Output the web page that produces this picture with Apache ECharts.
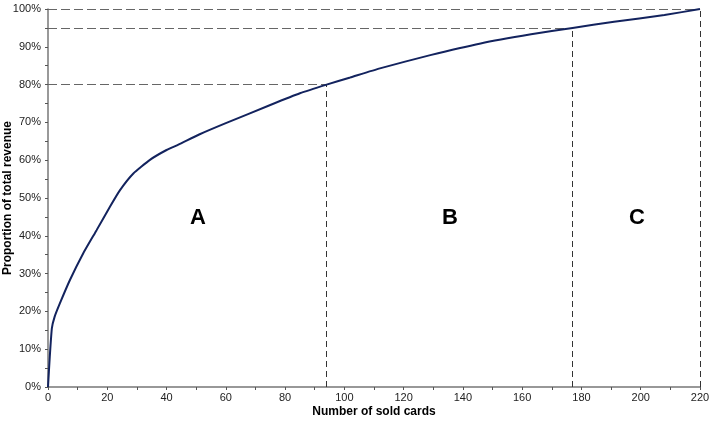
<!DOCTYPE html>
<html>
<head>
<meta charset="utf-8">
<script src="https://cdn.jsdelivr.net/npm/echarts@6/dist/echarts.min.js"></script>
<style>
  html, body { margin: 0; padding: 0; background: #fff; }
  #main { width: 718px; height: 421px; }
</style>
</head>
<body>
<div id="main"></div>
<script>
// cumulative revenue curve
const cards = [0, 0.6, 1.3, 2.2, 4, 7.4, 11.9, 16.4, 20.9, 24.3, 28.8, 34.4, 40, 44, 51, 60, 75, 85, 94, 102, 112, 129, 146, 163, 177, 191, 208, 220];
const share = [0, 8, 15.5, 18.5, 22.1, 28.3, 35.4, 41.5, 47.7, 52.1, 56.5, 60.1, 62.7, 64.1, 66.8, 69.8, 74.6, 77.7, 80, 81.9, 84.3, 87.8, 90.9, 93.3, 95, 96.6, 98.4, 100];

// ABC class limits
const cutCards = [94, 177, 220];
const cutShare = [80, 95, 100];

// class letters
const classNames = ["A", "B", "C"];
const classX = [50.6, 135.6, 198.7];
const classY = [44.7, 44.7, 44.7];

const chart = echarts.init(document.getElementById("main"));

const hLines = cutCards.map((c, i) => [
  { coord: [0, cutShare[i]] },
  { coord: [c, cutShare[i]] },
]);
const vLines = cutCards.map((c, i) => [
  { coord: [c, 0] },
  { coord: [c, cutShare[i]] },
]);

const option = {
  animation: false,
  textStyle: { fontFamily: "Liberation Sans, Arial, sans-serif" },
  grid: { left: 48, right: 18, top: 9, bottom: 34, containLabel: false, outerBoundsMode: "none" },
  xAxis: {
    type: "value",
    min: 0,
    max: 220,
    interval: 20,
    name: "Number of sold cards",
    nameLocation: "middle",
    nameGap: 19,
    nameMoveOverlap: false,
    nameTextStyle: { fontWeight: "bold", fontSize: 12, color: "#000" },
    axisLine: { lineStyle: { color: "#777", width: 1.5 } },
    axisTick: { show: true, length: 3, lineStyle: { color: "#555" } },
    minorTick: { show: true, splitNumber: 2, length: 3, lineStyle: { color: "#555" } },
    splitLine: { show: false },
    axisLabel: { color: "#222", fontSize: 11, margin: 5 },
  },
  yAxis: {
    type: "value",
    min: 0,
    max: 100,
    interval: 10,
    name: "Proportion of total revenue",
    nameLocation: "middle",
    nameGap: 34,
    nameMoveOverlap: false,
    nameTextStyle: { fontWeight: "bold", fontSize: 12, color: "#000" },
    axisLine: { show: true, lineStyle: { color: "#777", width: 1.5 } },
    axisTick: { show: true, length: 3, lineStyle: { color: "#555" } },
    minorTick: { show: true, splitNumber: 2, length: 3, lineStyle: { color: "#555" } },
    splitLine: { show: false },
    axisLabel: { color: "#222", fontSize: 11, margin: 7, formatter: "{value}%" },
  },
  series: [
    {
      type: "line",
      data: cards.map((c, i) => [c, share[i]]),
      smooth: 0.15,
      symbol: "none",
      lineStyle: { color: "#13235e", width: 2 },
      z: 5,
      markLine: {
        silent: true,
        symbol: "none",
        label: { show: false },
        lineStyle: { color: "#666", type: [9, 4], width: 1.2 },
        data: hLines,
      },
    },
    {
      type: "line",
      data: [],
      markLine: {
        silent: true,
        symbol: "none",
        label: { show: false },
        lineStyle: { color: "#333", type: [6, 4], width: 1 },
        data: vLines,
      },
    },
    {
      type: "scatter",
      symbolSize: 0,
      itemStyle: { opacity: 1 },
      data: classNames.map((n, i) => ({ value: [classX[i], classY[i]], name: n })),
      label: {
        show: true,
        position: "inside",
        formatter: "{b}",
        fontSize: 22,
        fontWeight: "bold",
        color: "#000",
        opacity: 1,
      },
    },
  ],
};

chart.setOption(option);
</script>
</body>
</html>
